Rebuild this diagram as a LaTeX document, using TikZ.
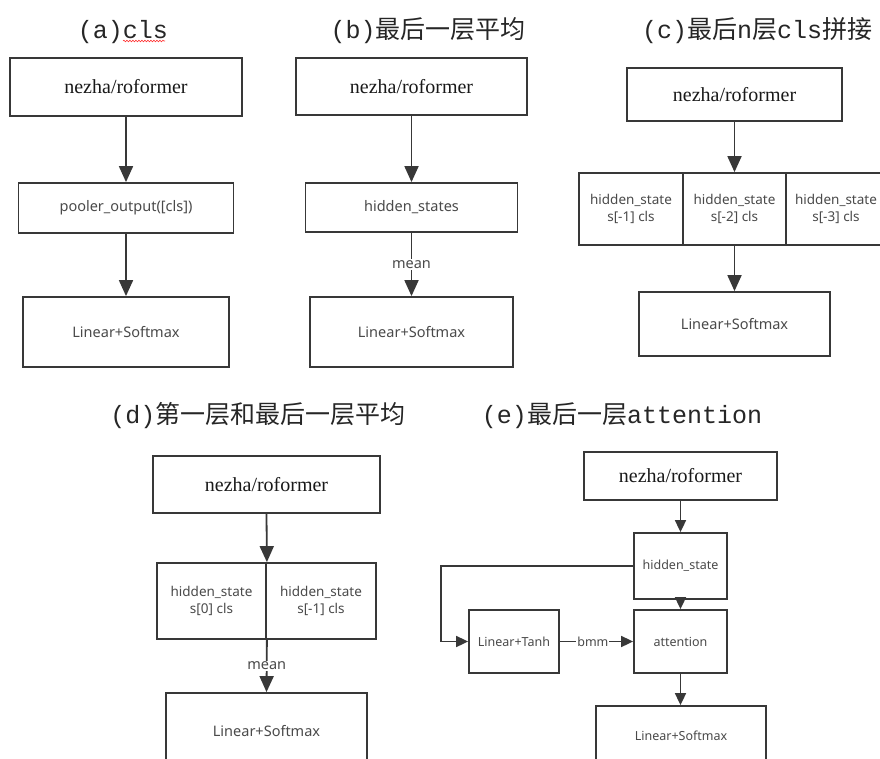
\documentclass[tikz,border=0pt]{standalone}
\usepackage{fontspec}
\setmainfont{Liberation Serif}
\newfontfamily\serf{Liberation Serif}
\newfontfamily\cjkf{Noto Sans CJK SC}
\newfontfamily\monof{Liberation Mono}
\newfontfamily\uif{Noto Sans}
\usetikzlibrary{arrows.meta,decorations.pathmorphing}
\definecolor{ln}{HTML}{383838}
\definecolor{tx}{HTML}{4a4a4a}
\tikzset{
  box/.style={draw=ln, line width=1.8pt, fill=white, inner sep=0pt, rectangle},
  big/.style={font=\serf\fontsize{20}{24}\selectfont, text=black!90},
  sm/.style={font=\uif\fontsize{14.5}{17}\selectfont, text=tx, align=center},
  hs/.style={font=\uif\fontsize{13.5}{17}\selectfont, text=tx, align=center},
  xs/.style={font=\uif\fontsize{12.5}{14}\selectfont, text=tx, align=center},
  arr/.style={draw=ln, line width=1.8pt, -{Triangle[length=16pt,width=14pt]}},
  arrs/.style={draw=ln, line width=1.7pt, -{Triangle[length=12pt,width=11pt]}},
  lbl/.style={fill=white, inner sep=1pt, font=\uif\fontsize{14.5}{17}\selectfont, text=tx},
  lbls/.style={fill=white, inner sep=1pt, font=\uif\fontsize{12.5}{14}\selectfont, text=tx},
  ttl/.style={font=\fontsize{25}{30}\selectfont, text=black!85, inner sep=0pt, anchor=base},
  squig/.style={draw=red!80, line width=0.6pt, decorate, decoration={snake, amplitude=0.8pt, segment length=3pt}},
}
\begin{document}
\begin{tikzpicture}[x=1pt, y=-1pt]
\path[use as bounding box, fill=white] (0,0) rectangle (880,758);
\clip (0,0) rectangle (880,758);

% ---------- titles ----------
\node[ttl] (ta) at (123,38) {\monof (a)cls};
\node[ttl] (tb) at (428,38) {\monof (b)\cjkf 最后一层平均};
\node[ttl] (tc) at (757,38) {\monof (c)\cjkf 最后\monof n\cjkf 层\monof cls\cjkf 拼接};
\node[ttl] (td) at (258,423) {\monof (d)\cjkf 第一层和最后一层平均};
\node[ttl] (te) at (622,423) {\monof (e)\cjkf 最后一层\monof attention};
\draw[squig] ([yshift=-3pt]ta.base) -- ++(42,0);

% ---------- (a) ----------
\node[box, big, minimum width=232pt, minimum height=58pt] (na1) at (126,87) {nezha/roformer};
\node[box, sm, minimum width=215pt, minimum height=50pt] (na2) at (126,208) {pooler\_output([cls])};
\node[box, sm, minimum width=206pt, minimum height=70pt] (na3) at (126,332) {Linear+Softmax};
\draw[arr] (na1) -- (na2);
\draw[arr] (na2) -- (na3);

% ---------- (b) ----------
\node[box, big, minimum width=231pt, minimum height=57pt] (nb1) at (411.5,86.5) {nezha/roformer};
\node[box, sm, minimum width=212pt, minimum height=49pt] (nb2) at (411.5,207.5) {hidden\_states};
\node[box, sm, minimum width=203pt, minimum height=70pt] (nb3) at (411.5,332) {Linear+Softmax};
\draw[arr] (nb1) -- (nb2);
\draw[arr] (nb2) -- node[lbl, pos=0.5] (mb) {mean} (nb3);

% ---------- (c) ----------
\node[box, big, minimum width=215pt, minimum height=53pt] (nc1) at (734.5,94.5) {nezha/roformer};
\node[box, hs, minimum width=104pt, minimum height=72pt] (nc2a) at (631,209) {hidden\_state\\s[-1] cls};
\node[box, hs, minimum width=103pt, minimum height=72pt] (nc2b) at (734.5,209) {hidden\_state\\s[-2] cls};
\node[box, minimum width=104pt, minimum height=72pt] (nc2c) at (838,209) {};
\node[hs, inner sep=0pt] (nc2ct) at (836,209) {hidden\_state\\s[-3] cls};
\node[box, sm, minimum width=191pt, minimum height=64pt] (nc3) at (734.5,324) {Linear+Softmax};
\draw[arr] (nc1) -- (nc2b);
\draw[arr] (nc2b) -- (nc3);

% ---------- (d) ----------
\node[box, big, minimum width=227pt, minimum height=57pt] (nd1) at (266.5,484.5) {nezha/roformer};
\node[box, hs, minimum width=109pt, minimum height=76pt] (nd2a) at (211.5,601) {hidden\_state\\s[0] cls};
\node[box, hs, minimum width=110pt, minimum height=76pt] (nd2b) at (321,601) {hidden\_state\\s[-1] cls};
\node[box, sm, minimum width=201pt, minimum height=77pt] (nd3) at (266.5,731.5) {Linear+Softmax};
\draw[arr] (nd1.south) -- (nd2a.north east);
\draw[arr] (nd2a.south east) -- node[lbl, pos=0.5] (md) {mean} (nd1.south |- nd3.north);

% ---------- (e) ----------
\node[box, big, minimum width=193pt, minimum height=48pt] (ne1) at (680.5,476) {nezha/roformer};
\node[box, xs, minimum width=93pt, minimum height=66pt] (ne2) at (680.5,566) {hidden\_state};
\node[box, xs, minimum width=93pt, minimum height=63pt] (ne3) at (680.5,641.5) {attention};
\node[box, xs, minimum width=90pt, minimum height=63pt] (ne4) at (514,641.5) {Linear+Tanh};
\node[box, xs, minimum width=170pt, minimum height=60pt] (ne5) at (681,736) {Linear+Softmax};
\coordinate (loopc) at (441,566);
\draw[arrs] (ne1) -- (ne2);
\draw[arrs] (ne2) -- (ne3);
\draw[arrs] (ne3) -- (ne3 |- ne5.north);
\draw[arrs] (ne2.west) -- (loopc) |- (ne4.west);
\draw[arrs] (ne4) -- node[lbls, pos=0.45] (bm) {bmm} (ne3);
\end{tikzpicture}
\end{document}
